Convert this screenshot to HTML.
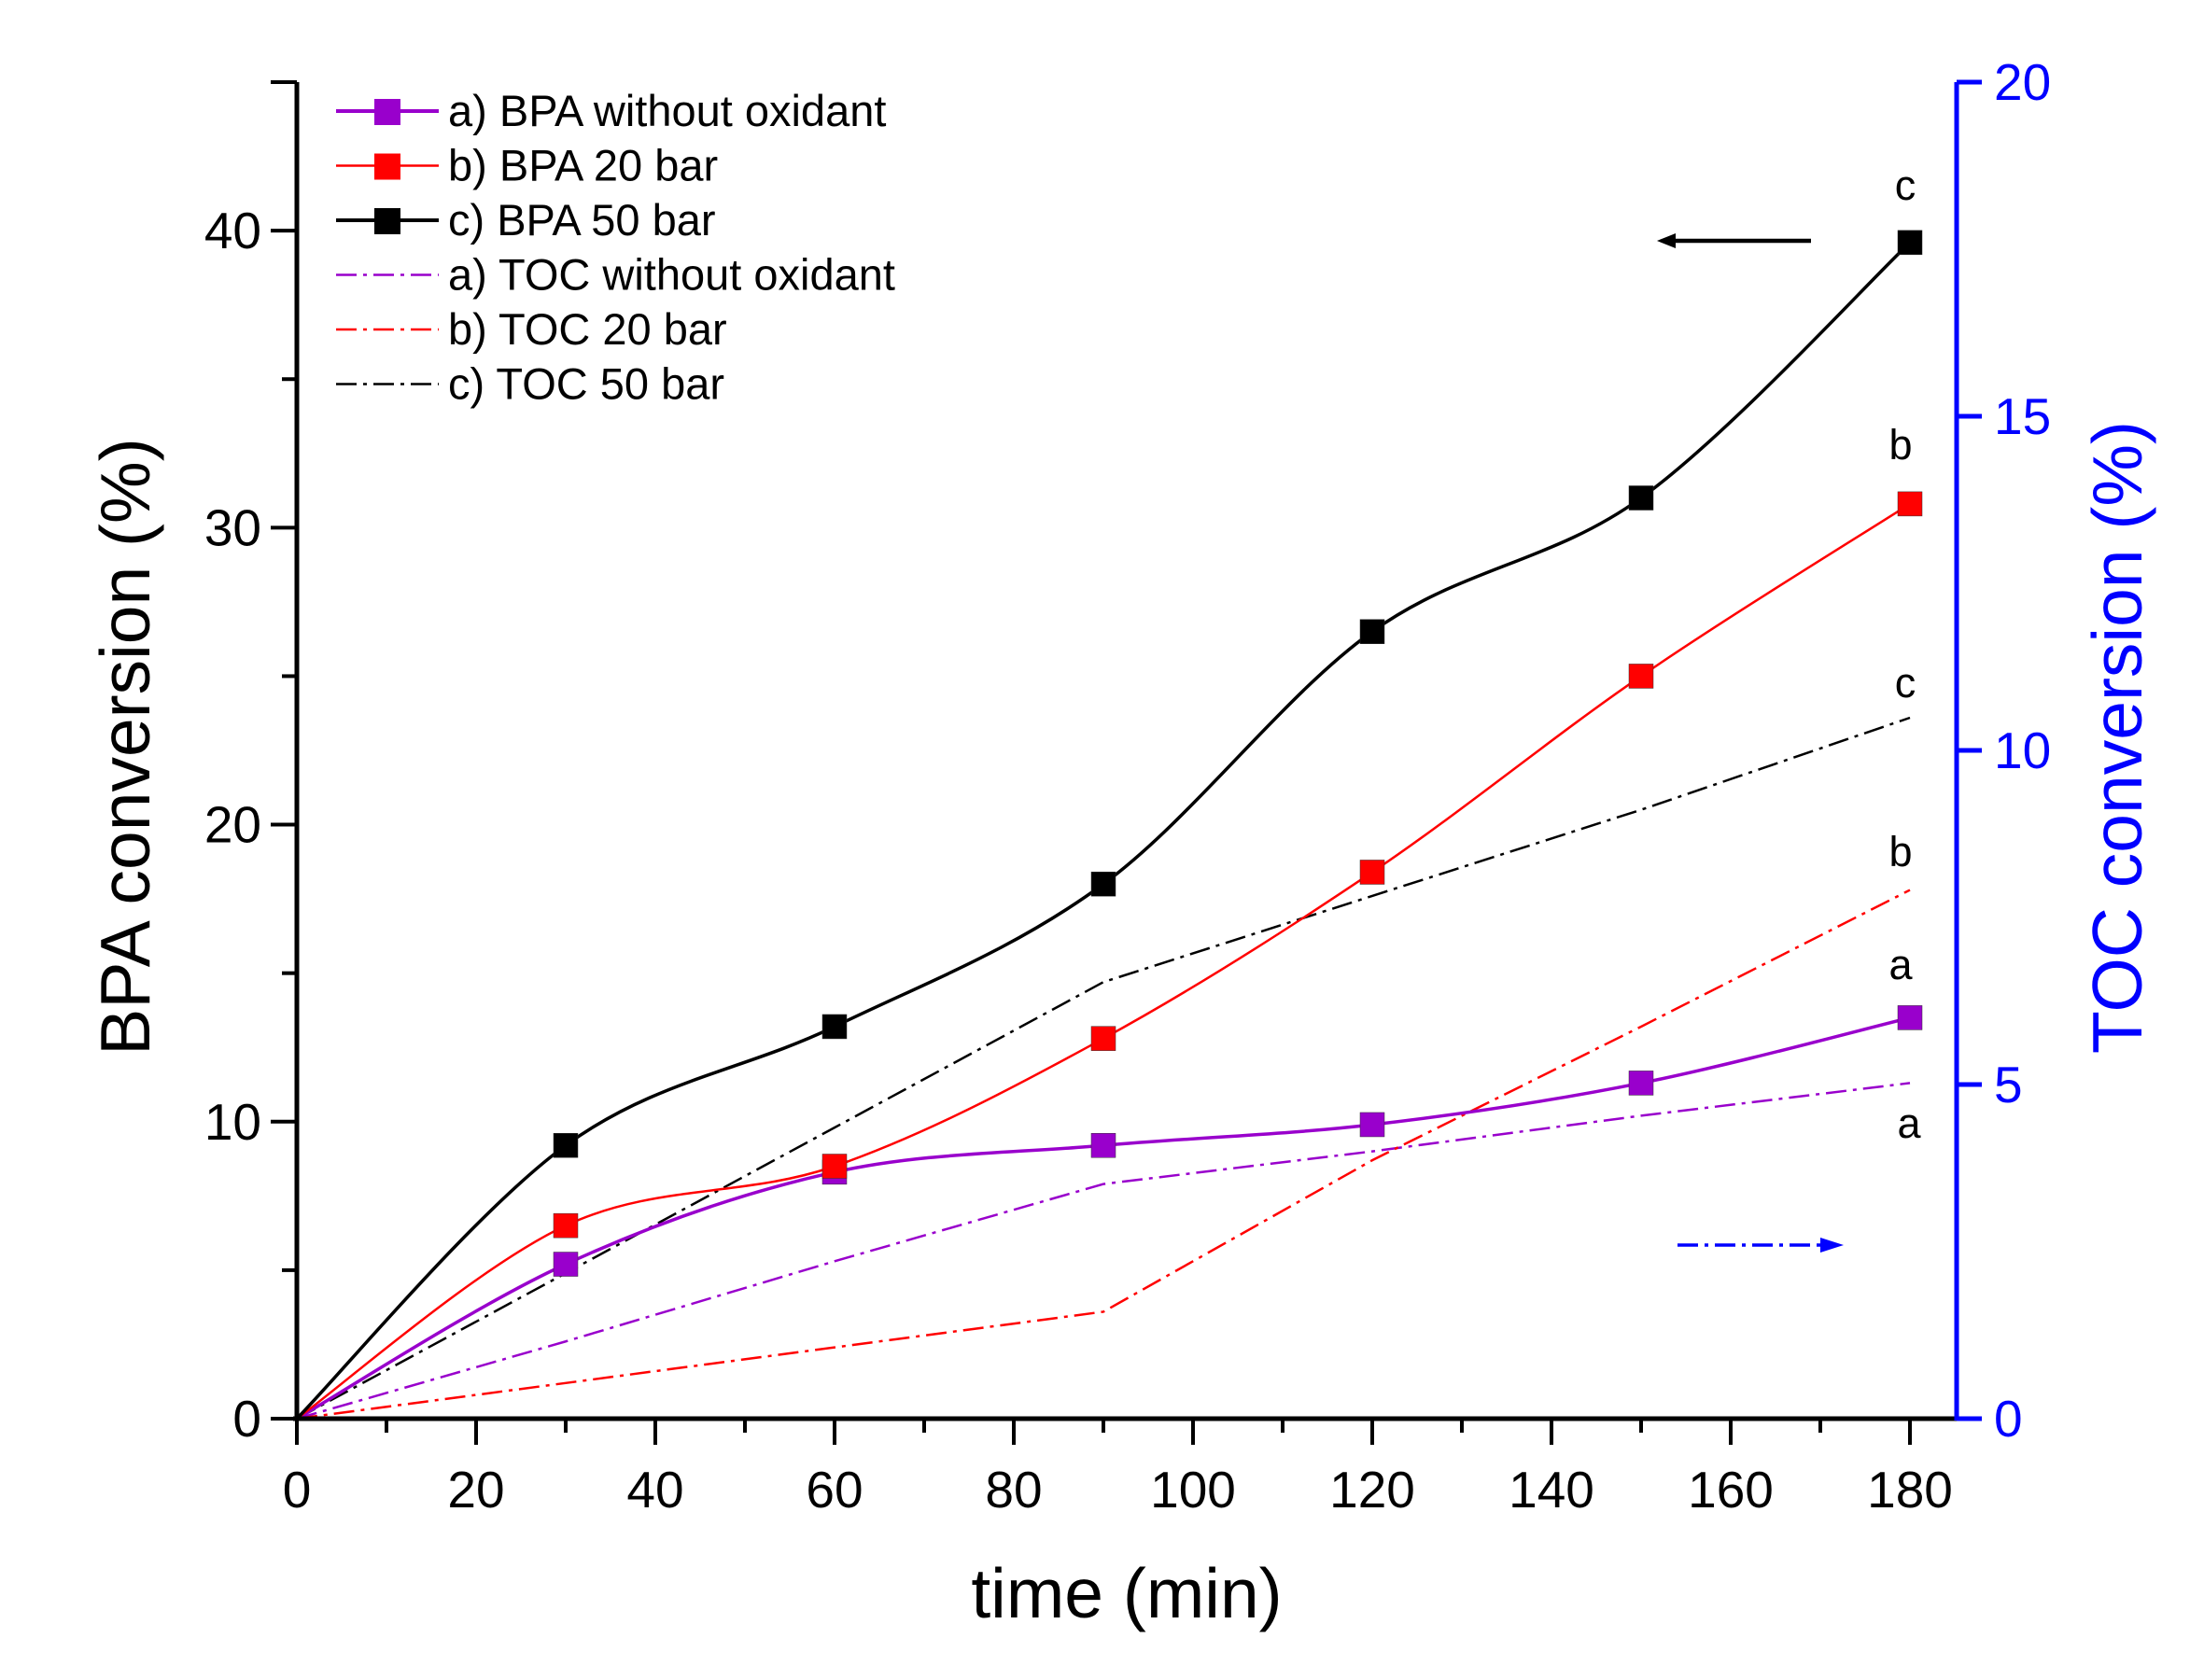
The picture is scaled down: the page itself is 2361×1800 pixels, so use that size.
<!DOCTYPE html>
<html><head><meta charset="utf-8"><style>
html,body{margin:0;padding:0;background:#fff;}
svg{display:block;font-family:"Liberation Sans",Arial,sans-serif;}
</style></head><body>
<svg id="s" width="2361" height="1800" xmlns="http://www.w3.org/2000/svg"></svg>
<script>
const X0=318,X1=2046,Y0=1520,YT=88;
const xs=m=>X0+m*(X1-X0)/180;
const yl=v=>Y0-v*(Y0-YT)/45;
let h='';
const t=[0,30,60,90,120,150,180];
function spline(pts){let d=`M${pts[0][0]},${pts[0][1]}`;for(let i=0;i<pts.length-1;i++){const p0=pts[i-1]||pts[i],p1=pts[i],p2=pts[i+1],p3=pts[i+2]||p2;const c1=[p1[0]+(p2[0]-p0[0])/6,p1[1]+(p2[1]-p0[1])/6],c2=[p2[0]-(p3[0]-p1[0])/6,p2[1]-(p3[1]-p1[1])/6];d+=` C${c1[0]},${c1[1]} ${c2[0]},${c2[1]} ${p2[0]},${p2[1]}`;}return d;}
const lin=pts=>'M'+pts.map(p=>p.join(',')).join(' L');
const toc={c:[0,4.9,9.8,14.7,17.6,20.5,23.6],b:[0,1.2,2.4,3.6,8.7,13.2,17.8],a:[0,2.6,5.3,7.9,9.0,10.2,11.3]};
const bpa={a:[0,5.2,8.3,9.2,9.9,11.3,13.5],b:[0,6.5,8.5,12.8,18.4,25,30.8],c:[0,9.2,13.2,18,26.5,31,39.6]};
const col={a:'#9900cc',b:'#ff0000',c:'#000000'};
const dash='22,7,4,7';
for(const k of ['a','b','c']){h+=`<path d="${lin(t.map((m,i)=>[xs(m),yl(toc[k][i])]))}" fill="none" stroke="${col[k]}" stroke-width="2.5" stroke-dasharray="${dash}"/>`;}
for(const k of ['a','b','c']){const p=t.map((m,i)=>[xs(m),yl(bpa[k][i])]);h+=`<path d="${spline(p)}" fill="none" stroke="${col[k]}" stroke-width="${k=='b'?2.5:3.5}"/>`;p.slice(1).forEach(q=>h+=`<rect x="${q[0]-13}" y="${q[1]-13}" width="26" height="26" fill="${col[k]}" stroke="#333" stroke-width="0.5"/>`);}
// axes
h+=`<line x1="${X0}" y1="${YT}" x2="${X0}" y2="${Y0+2}" stroke="#000" stroke-width="5"/>`;
h+=`<line x1="${X0-4}" y1="${Y0}" x2="2096" y2="${Y0}" stroke="#000" stroke-width="5"/>`;
h+=`<line x1="2096" y1="${YT}" x2="2096" y2="${Y0+2}" stroke="#0000ff" stroke-width="5"/>`;
h+=`<line x1="2096" y1="${Y0}" x2="2123" y2="${Y0}" stroke="#0000ff" stroke-width="5"/>`;
h+=`<line x1="${X0-28}" y1="${YT}" x2="${X0}" y2="${YT}" stroke="#000" stroke-width="4"/>`;
for(let v=0;v<=45;v+=5){const y=yl(v);const maj=v%10==0;h+=`<line x1="${X0-(maj?28:16)}" y1="${y}" x2="${X0}" y2="${y}" stroke="#000" stroke-width="4"/>`;if(maj)h+=`<text x="${X0-38}" y="${y+19}" font-size="55" text-anchor="end">${v}</text>`;}
for(let m=0;m<=180;m+=10){const x=xs(m);const maj=m%20==0;h+=`<line x1="${x}" y1="${Y0}" x2="${x}" y2="${Y0+(maj?28:15)}" stroke="#000" stroke-width="4"/>`;if(maj)h+=`<text x="${x}" y="${Y0+95}" font-size="55" text-anchor="middle">${m}</text>`;}
for(let v=0;v<=20;v+=5){const y=Y0-v*(Y0-YT)/20;h+=`<line x1="2096" y1="${y}" x2="2123" y2="${y}" stroke="#0000ff" stroke-width="5"/>`;h+=`<text x="2136" y="${y+19}" font-size="55" fill="#0000ff">${v}</text>`;}
// titles
h+=`<text transform="translate(160,800) rotate(-90)" font-size="75" text-anchor="middle">BPA conversion (%)</text>`;
h+=`<text transform="translate(2294,790) rotate(-90)" font-size="75" text-anchor="middle" fill="#0000ff">TOC conversion (%)</text>`;
h+=`<text x="1207" y="1733" font-size="75" text-anchor="middle">time (min)</text>`;
// legend
const leg=[['a) BPA without oxidant','a',1],['b) BPA 20 bar','b',1],['c) BPA 50 bar','c',1],['a) TOC without oxidant','a',0],['b) TOC 20 bar','b',0],['c) TOC 50 bar','c',0]];
leg.forEach((l,i)=>{const y=119+i*58.5;const c=col[l[1]];if(l[2]){h+=`<line x1="360" y1="${y}" x2="470" y2="${y}" stroke="${c}" stroke-width="${l[1]=='b'?2.5:4}"/><rect x="401" y="${y-13}" width="28" height="28" fill="${c}"/>`;}else{h+=`<line x1="360" y1="${y}" x2="470" y2="${y}" stroke="${c}" stroke-width="2.5" stroke-dasharray="${dash}"/>`;}h+=`<text x="480" y="${y+16}" font-size="47">${l[0]}</text>`;});
// labels
[['c',2041,214],['b',2036,492],['c',2041,747],['b',2036,928],['a',2036,1049],['a',2045,1219]].forEach(l=>h+=`<text x="${l[1]}" y="${l[2]}" font-size="45" text-anchor="middle">${l[0]}</text>`);
// arrows
h+=`<line x1="1940" y1="258" x2="1790" y2="258" stroke="#000" stroke-width="4.5"/><polygon points="1775,258 1795,250 1795,266" fill="#000"/>`;
h+=`<line x1="1797" y1="1334" x2="1955" y2="1334" stroke="#0000ff" stroke-width="3.5" stroke-dasharray="${dash}"/><polygon points="1975,1334 1950,1326 1950,1342" fill="#0000ff"/>`;
document.getElementById('s').innerHTML=h;
</script>
</body></html>
